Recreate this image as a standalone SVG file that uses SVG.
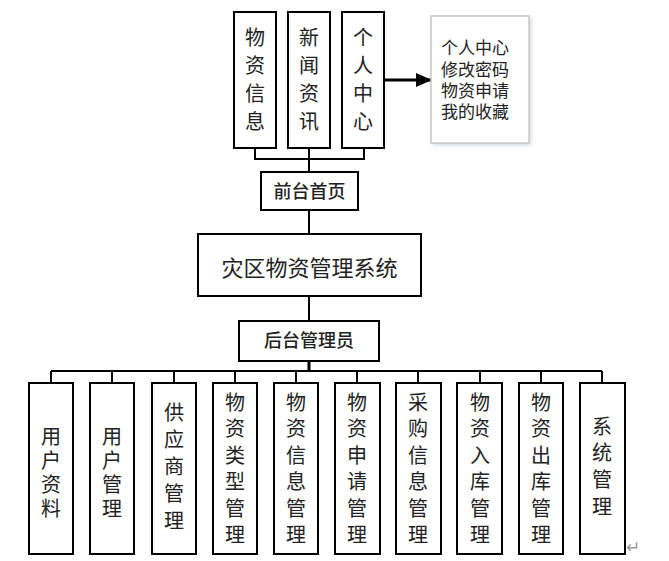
<svg xmlns="http://www.w3.org/2000/svg" width="669" height="561" viewBox="0 0 669 561">
<defs>
<style>
.box{fill:#fff;stroke:#000;stroke-width:2}
.ln{fill:none;stroke:#000;stroke-width:2}
.t{font-family:"Liberation Sans","Noto Sans CJK SC",sans-serif;fill:#222;text-anchor:middle}
.v{font-size:20px}
.b{font-size:18px;font-weight:500}
.m{font-size:22px}
.r{font-size:17px;text-anchor:start}
</style>
<marker id="arr" markerWidth="16" markerHeight="14" refX="15" refY="7" orient="auto" markerUnits="userSpaceOnUse" viewBox="0 0 16 14"><path d="M0,0 L16,7 L0,14 z" fill="#000"/></marker>
<filter id="sh" x="-20%" y="-20%" width="140%" height="140%"><feGaussianBlur stdDeviation="2"/></filter>
</defs>
<rect width="669" height="561" fill="#fff"/>
<g id="connectors">
<path class="ln" d="M255,148 V159 H364 V148 M309,148 V172"/>
<path class="ln" d="M309,210 V234 M309,296 V321"/>
<path class="ln" d="M309,361 V371" style="stroke-width:3"/>
<path class="ln" d="M51,371 H602 M51,371 V383 M112,371 V383 M174,371 V383 M235,371 V383 M296,371 V383 M357,371 V383 M418,371 V383 M480,371 V383 M541,371 V383 M602,371 V383"/>
<line x1="384" y1="80" x2="431" y2="80" stroke="#000" stroke-width="3" marker-end="url(#arr)"/>
</g>
<g id="n-wzxx"><rect class="box" x="234" y="12" width="42" height="136"/>
<text class="t v" x="255"><tspan x="255" y="45">物</tspan><tspan x="255" y="73">资</tspan><tspan x="255" y="101">信</tspan><tspan x="255" y="129">息</tspan></text></g>
<g id="n-xwzx"><rect class="box" x="288" y="12" width="42" height="136"/>
<text class="t v" x="309"><tspan x="309" y="45">新</tspan><tspan x="309" y="73">闻</tspan><tspan x="309" y="101">资</tspan><tspan x="309" y="129">讯</tspan></text></g>
<g id="n-grzx"><rect class="box" x="342" y="12" width="42" height="136"/>
<text class="t v" x="363"><tspan x="363" y="45">个</tspan><tspan x="363" y="73">人</tspan><tspan x="363" y="101">中</tspan><tspan x="363" y="129">心</tspan></text></g>
<g id="n-menu">
<rect x="433" y="18" width="98" height="127" fill="#c9d6e8" filter="url(#sh)"/>
<rect x="431" y="16" width="98" height="127" fill="#fff" stroke="#c8c8c8" stroke-width="1.5"/>
<text class="t r"><tspan x="441" y="54">个人中心</tspan><tspan x="441" y="76">修改密码</tspan><tspan x="441" y="97">物资申请</tspan><tspan x="441" y="118">我的收藏</tspan></text></g>
<g id="n-qtsy"><rect class="box" x="261" y="172" width="97" height="38"/>
<text class="t b" x="309.5" y="198">前台首页</text></g>
<g id="n-main"><rect class="box" x="198" y="234" width="223" height="62"/>
<text class="t m" x="309.5" y="276">灾区物资管理系统</text></g>
<g id="n-htgly"><rect class="box" x="239" y="321" width="140" height="40"/>
<text class="t b" x="309" y="347">后台管理员</text></g>
<g id="n-b1"><rect class="box" x="29" y="383" width="44" height="171"/>
<text class="t v"><tspan x="51" y="444">用</tspan><tspan x="51" y="468">户</tspan><tspan x="51" y="492">资</tspan><tspan x="51" y="516">料</tspan></text></g>
<g id="n-b2"><rect class="box" x="90" y="383" width="44" height="171"/>
<text class="t v"><tspan x="112" y="444">用</tspan><tspan x="112" y="468">户</tspan><tspan x="112" y="492">管</tspan><tspan x="112" y="516">理</tspan></text></g>
<g id="n-b3"><rect class="box" x="152" y="383" width="44" height="171"/>
<text class="t v"><tspan x="174" y="420">供</tspan><tspan x="174" y="447">应</tspan><tspan x="174" y="474">商</tspan><tspan x="174" y="501">管</tspan><tspan x="174" y="528">理</tspan></text></g>
<g id="n-b4"><rect class="box" x="213" y="383" width="44" height="171"/>
<text class="t v"><tspan x="235" y="410">物</tspan><tspan x="235" y="436">资</tspan><tspan x="235" y="463">类</tspan><tspan x="235" y="489">型</tspan><tspan x="235" y="516">管</tspan><tspan x="235" y="542">理</tspan></text></g>
<g id="n-b5"><rect class="box" x="274" y="383" width="44" height="171"/>
<text class="t v"><tspan x="296" y="410">物</tspan><tspan x="296" y="436">资</tspan><tspan x="296" y="463">信</tspan><tspan x="296" y="489">息</tspan><tspan x="296" y="516">管</tspan><tspan x="296" y="542">理</tspan></text></g>
<g id="n-b6"><rect class="box" x="335" y="383" width="45" height="171"/>
<text class="t v"><tspan x="357" y="410">物</tspan><tspan x="357" y="436">资</tspan><tspan x="357" y="463">申</tspan><tspan x="357" y="489">请</tspan><tspan x="357" y="516">管</tspan><tspan x="357" y="542">理</tspan></text></g>
<g id="n-b7"><rect class="box" x="396" y="383" width="45" height="171"/>
<text class="t v"><tspan x="418" y="410">采</tspan><tspan x="418" y="436">购</tspan><tspan x="418" y="463">信</tspan><tspan x="418" y="489">息</tspan><tspan x="418" y="516">管</tspan><tspan x="418" y="542">理</tspan></text></g>
<g id="n-b8"><rect class="box" x="457" y="383" width="45" height="171"/>
<text class="t v"><tspan x="480" y="410">物</tspan><tspan x="480" y="436">资</tspan><tspan x="480" y="463">入</tspan><tspan x="480" y="489">库</tspan><tspan x="480" y="516">管</tspan><tspan x="480" y="542">理</tspan></text></g>
<g id="n-b9"><rect class="box" x="519" y="383" width="44" height="171"/>
<text class="t v"><tspan x="541" y="410">物</tspan><tspan x="541" y="436">资</tspan><tspan x="541" y="463">出</tspan><tspan x="541" y="489">库</tspan><tspan x="541" y="516">管</tspan><tspan x="541" y="542">理</tspan></text></g>
<g id="n-b10"><rect class="box" x="580" y="383" width="45" height="171"/>
<text class="t v"><tspan x="602" y="434">系</tspan><tspan x="602" y="460">统</tspan><tspan x="602" y="487">管</tspan><tspan x="602" y="514">理</tspan></text></g>
<text x="626" y="553" font-family="DejaVu Sans,sans-serif" font-size="17" fill="#999">↵</text>
</svg>
